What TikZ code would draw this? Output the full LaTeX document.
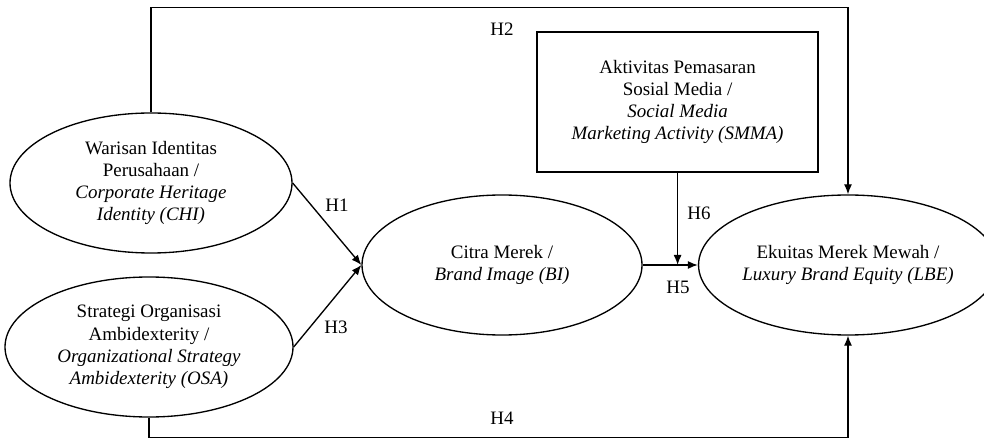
\documentclass[tikz,border=0pt]{standalone}
\usepackage{fontspec}
\setmainfont{Liberation Serif}
\usetikzlibrary{arrows.meta,positioning,shapes.geometric}
\newcommand{\hfont}{\fontsize{13.5}{15.8}\selectfont}
\tikzset{
  lat/.style={draw, ellipse, line width=0.95pt, inner sep=0pt,
              minimum height=3.5cm, align=center, font=\hfont},
  obs/.style={draw, rectangle, line width=0.95pt, inner sep=0pt,
              minimum width=7.025cm, minimum height=3.5cm, align=center, font=\hfont},
  parr/.style={-{Latex[length=2.5mm,width=2mm]}, line width=0.95pt},
  hlab/.style={font=\hfont},
}

\begin{document}
\begin{tikzpicture}
    \useasboundingbox (0,0) rectangle (24.6,11.025);
    % constructs
    \node[lat, minimum width=7.05cm] (CHI) at (3.775,6.45)
      {Warisan Identitas\\ Perusahaan /\\ \textit{Corporate Heritage}\\ \textit{Identity (CHI)}};
    \node[lat, minimum width=7.2cm] (OSA) at (3.725,2.35)
      {Strategi Organisasi\\ Ambidexterity /\\ \textit{Organizational Strategy}\\ \textit{Ambidexterity (OSA)}};
    \node[lat, minimum width=7.0cm] (BI) at (12.55,4.4)
      {Citra Merek /\\ \textit{Brand Image (BI)}};
    \node[lat, minimum width=6.75cm] (LBE) at (21.2,4.4)
      {Ekuitas Merek Mewah /\\ \textit{Luxury Brand Equity (LBE)}};
    \node[obs] (SMMA) at (16.94,8.475)
      {Aktivitas Pemasaran\\ Sosial Media /\\ \textit{Social Media}\\ \textit{Marketing Activity (SMMA)}};
    % paths
    \draw[parr] (CHI.east) -- (BI.west);
    \draw[parr] (OSA.east) -- (BI.west);
    \draw[parr] (BI.east) -- (LBE.west);
    \draw[parr] (SMMA.south) -- (SMMA.south |- BI.east);
    \draw[parr] (CHI.north) -- ++(0,2.625) -| (LBE.north);
    \draw[parr] (OSA.south) -- ++(0,-0.5) -| (LBE.south);
    % hypotheses
    \node[hlab] (h1) at (8.425,5.9) {H1};
    \node[hlab] (h2) at (12.55,10.3) {H2};
    \node[hlab] (h3) at (8.4,2.85) {H3};
    \node[hlab] (h4) at (12.55,0.575) {H4};
    \node[hlab] (h5) at (16.95,3.85) {H5};
    \node[hlab] (h6) at (17.475,5.7) {H6};
  \end{tikzpicture}
\end{document}
